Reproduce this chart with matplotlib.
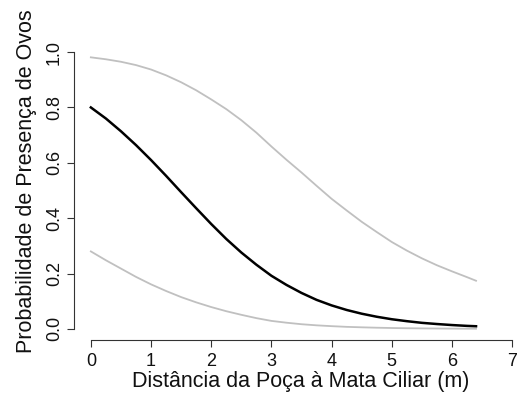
import matplotlib
matplotlib.use("Agg")
import matplotlib.pyplot as plt

# distancia (m) e probabilidades
dist = [0, 0.25, 0.5, 0.75, 1.0, 1.25, 1.5, 1.75, 2.0, 2.25, 2.5, 2.75, 3.0, 3.25,
        3.5, 3.75, 4.0, 4.25, 4.5, 4.75, 5.0, 5.25, 5.5, 5.75, 6.0, 6.25, 6.4]
prob = [0.800, 0.760, 0.714, 0.664, 0.610, 0.553, 0.494, 0.436, 0.379, 0.325, 0.276,
        0.232, 0.192, 0.159, 0.130, 0.105, 0.085, 0.0685, 0.055, 0.044, 0.035, 0.028,
        0.022, 0.0177, 0.014, 0.011, 0.0097]
upper = [0.981, 0.974, 0.965, 0.953, 0.937, 0.916, 0.891, 0.862, 0.829, 0.794, 0.754,
         0.709, 0.659, 0.611, 0.565, 0.517, 0.470, 0.428, 0.387, 0.350, 0.314, 0.283,
         0.255, 0.230, 0.208, 0.187, 0.174]
lower = [0.280, 0.248, 0.218, 0.188, 0.161, 0.137, 0.115, 0.096, 0.079, 0.064, 0.051,
         0.039, 0.029, 0.0225, 0.017, 0.013, 0.010, 0.0075, 0.0058, 0.0044, 0.0033,
         0.0025, 0.0019, 0.0015, 0.0011, 0.0008, 0.0007]

xticks = [0, 1, 2, 3, 4, 5, 6, 7]
yticks = [0.0, 0.2, 0.4, 0.6, 0.8, 1.0]

plt.rcParams['font.family'] = ['Liberation Sans', 'DejaVu Sans']

W, H = 518, 401
fig = plt.figure(figsize=(W / 100, H / 100), dpi=100)
# regiao do grafico em pixels (estilo R, xlim 0-7 com 4% de margem)
left, right, top, bottom = 74, 529, 41, 340
ax = fig.add_axes([left / W, (H - bottom) / H, (right - left) / W, (bottom - top) / H])

ax.plot(dist, upper, color="#c0c0c0", lw=1.3, solid_joinstyle="round")
ax.plot(dist, lower, color="#c0c0c0", lw=1.3, solid_joinstyle="round")
ax.plot(dist, prob, color="black", lw=1.8, solid_joinstyle="round")

ax.set_xlim(-0.28, 7.28)
ax.set_ylim(-0.04, 1.04)

for s in ("top", "right"):
    ax.spines[s].set_visible(False)
ax.spines["left"].set_bounds(0, 1)
ax.spines["bottom"].set_bounds(0, 7)
for s in ("left", "bottom"):
    ax.spines[s].set_color("#333333")
    ax.spines[s].set_linewidth(0.8)

ax.set_xticks(xticks)
ax.set_xticklabels([str(t) for t in xticks])
ax.set_yticks(yticks)
ax.set_yticklabels([f"{t:.1f}" for t in yticks], rotation=90, va="center")
ax.tick_params(direction="out", length=5, width=0.8, color="#333333",
               labelsize=13, labelcolor="#111111")
ax.tick_params(axis="x", pad=4.5)
ax.tick_params(axis="y", pad=3)

ax.set_xlabel("Distância da Poça à Mata Ciliar (m)", fontsize=15.5, color="#111111",
              va="center")
ax.set_ylabel("Probabilidade de Presença de Ovos", fontsize=15.5, color="#111111",
              va="center")
ax.xaxis.set_label_coords(301 / W, (H - 382) / H, transform=fig.transFigure)
ax.yaxis.set_label_coords(27 / W, (H - 181) / H, transform=fig.transFigure)

fig.savefig("out.png", dpi=100)
